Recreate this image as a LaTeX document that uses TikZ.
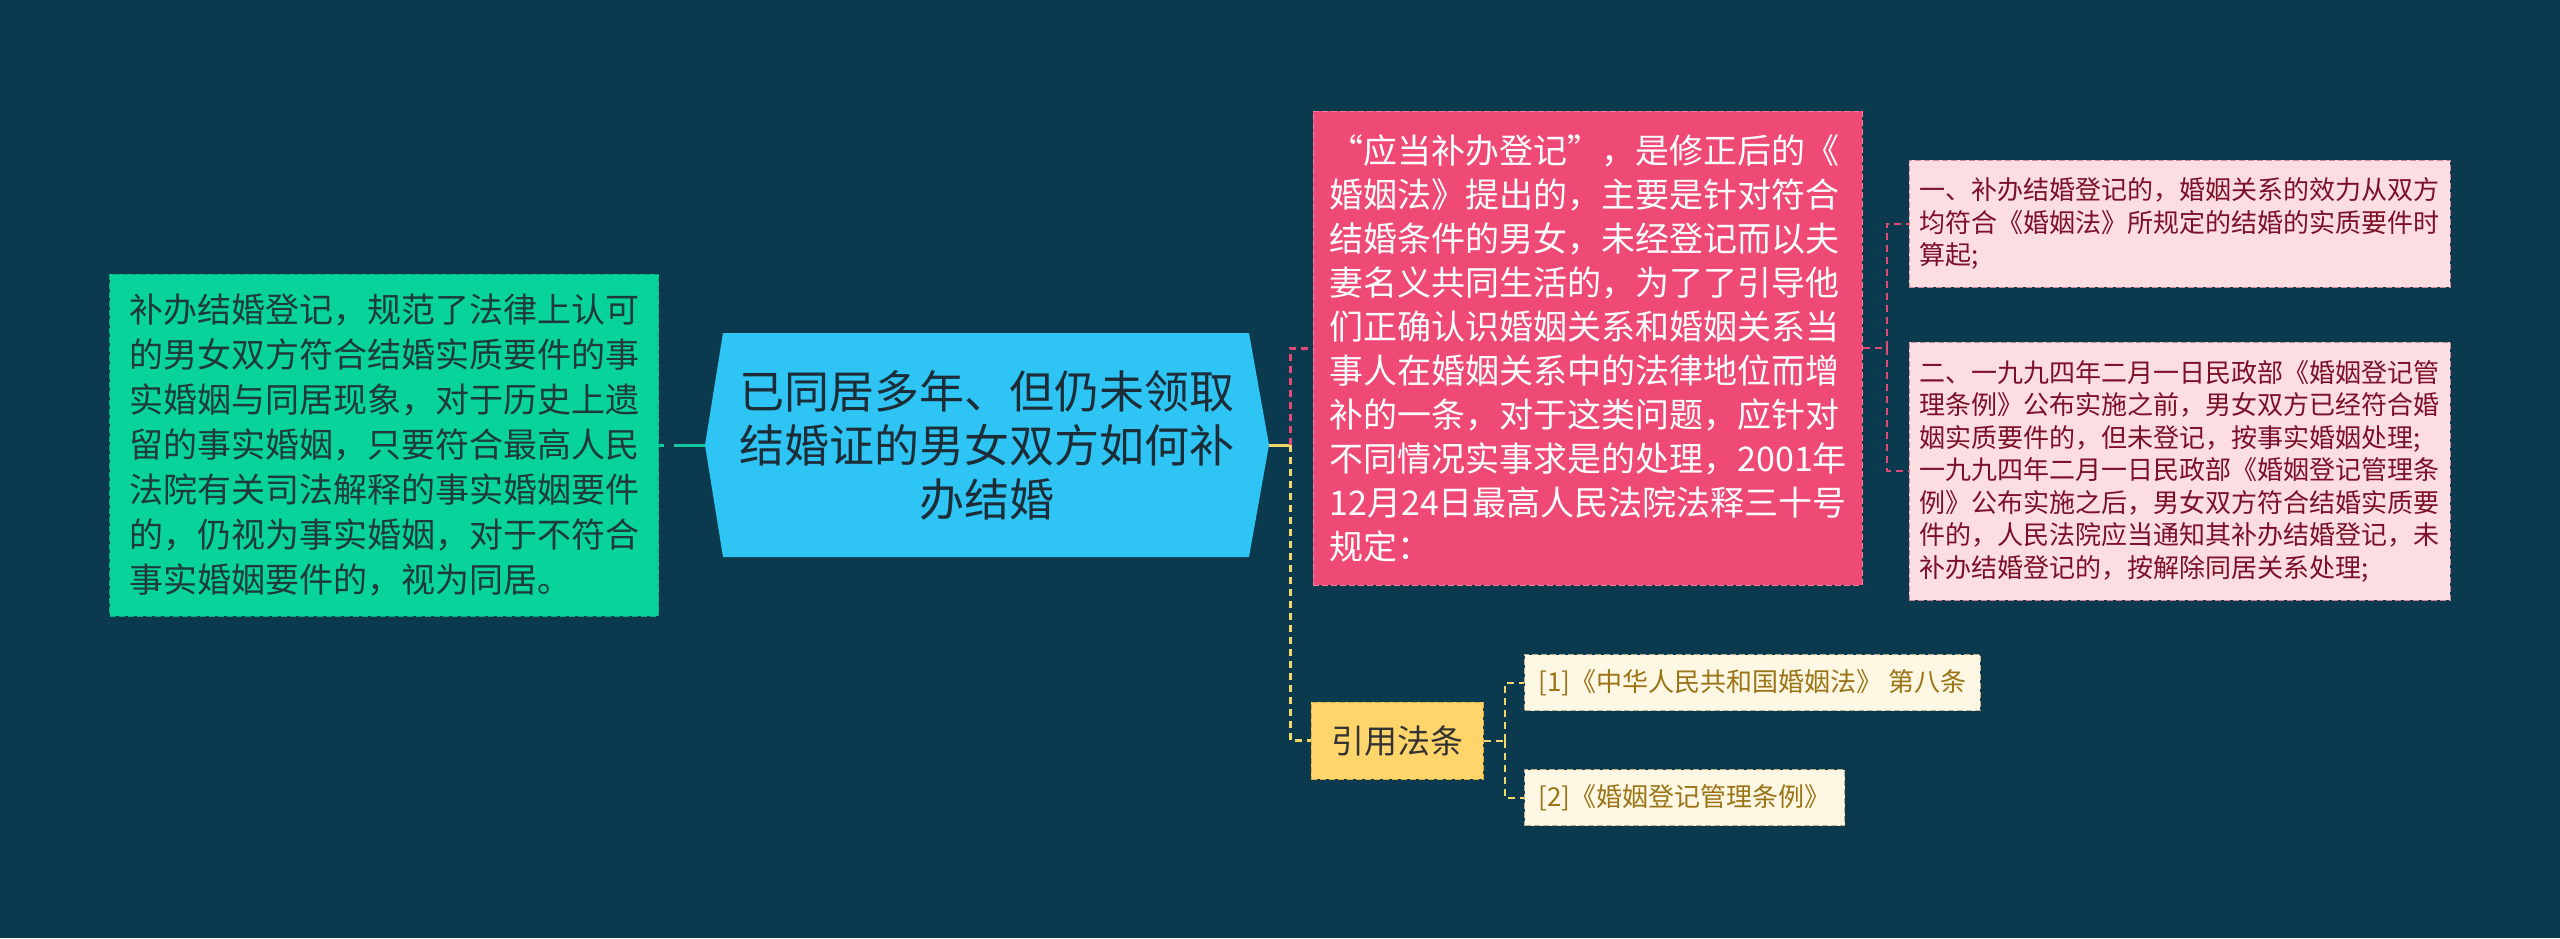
\documentclass[tikz,border=0pt]{standalone}
\usepackage{fontspec}
\setmainfont{Noto Sans CJK SC}
\usetikzlibrary{calc}
\definecolor{bgcol}{HTML}{0B394D}
\definecolor{greenfill}{HTML}{08D39B}
\definecolor{greenedge}{HTML}{0AA97E}
\definecolor{greentext}{HTML}{1E3A3A}
\definecolor{hubfill}{HTML}{2EC4F3}
\definecolor{hubtext}{HTML}{1D2D38}
\definecolor{pinkfill}{HTML}{EF4A75}
\definecolor{pinkedge}{HTML}{F27F9D}
\definecolor{rosefill}{HTML}{FCDDE2}
\definecolor{roseedge}{HTML}{CF8A9B}
\definecolor{rosetext}{HTML}{7B0F2C}
\definecolor{lawfill}{HTML}{FDD56B}
\definecolor{lawedge}{HTML}{D9AE45}
\definecolor{citefill}{HTML}{FDF7E4}
\definecolor{citeedge}{HTML}{BFAE8A}
\definecolor{citetext}{HTML}{9B7416}
\definecolor{tealline}{HTML}{15C89B}
\definecolor{pinkline}{HTML}{E04B78}
\definecolor{yellowline}{HTML}{F3D76B}

\begin{document}
\begin{tikzpicture}[x=0.5pt,y=-0.5pt,
		box/.style={draw,dash pattern=on 3pt off 1.5pt,line width=0.5pt,rectangle,align=left},
		greenbox/.style={box,fill=greenfill,draw=greenedge,text=greentext,text width=255pt,
			minimum width=274.5pt,minimum height=171pt,font=\fontsize{17pt}{22.5pt}\selectfont},
		pinkbox/.style={box,fill=pinkfill,draw=pinkedge,text=white,text width=258pt,
			minimum width=274.5pt,minimum height=237pt,font=\fontsize{17pt}{22pt}\selectfont},
		rosebox/.style={box,fill=rosefill,draw=roseedge,text=rosetext,text width=260pt,
			minimum width=270.5pt,font=\fontsize{13pt}{16.25pt}\selectfont},
		lawbox/.style={box,fill=lawfill,draw=lawedge,text=black!80,minimum width=86pt,
			minimum height=38.5pt,align=center,font=\fontsize{16.5pt}{20pt}\selectfont},
		citebox/.style={box,fill=citefill,draw=citeedge,text=citetext,anchor=west,inner xsep=7pt,
			minimum height=28pt,font=\fontsize{13pt}{16pt}\selectfont},
		pinklink/.style={draw=pinkline,line width=1.5pt,dash pattern=on 3.5pt off 2.5pt},
		yellowlink/.style={draw=yellowline,line width=1.5pt,dash pattern=on 3.5pt off 2.5pt},
		]
			%%%%% START %%%%%
			
			\fill[bgcol] (0,0) rectangle (2560,938);
			\useasboundingbox (0,0) rectangle (2560,938);
			
			% centre topic
			\coordinate (hubc) at (987,445);
			\fill[hubfill] ($(hubc)+(-282,0)$) -- ($(hubc)+(-264,-112)$) -- ($(hubc)+(262,-112)$)
				-- ($(hubc)+(282,0)$) -- ($(hubc)+(262,112)$) -- ($(hubc)+(-264,112)$) -- cycle;
			\node[align=center,text=hubtext,minimum width=282pt,minimum height=112pt,
				font=\fontsize{22.5pt}{27pt}\selectfont] (hub) at (hubc)
				{已同居多年、但仍未领取\\结婚证的男女双方如何补\\办结婚};
			
			% left
			\node[greenbox] (fact) at (384,445) {补办结婚登记，规范了法律上认可\\的男女双方符合结婚实质要件的事\\实婚姻与同居现象，对于历史上遗\\留的事实婚姻，只要符合最高人民\\法院有关司法解释的事实婚姻要件\\的，仍视为事实婚姻，对于不符合\\事实婚姻要件的，视为同居。};
			
			% right
			\node[pinkbox] (rule) at (1587.5,348) {“应当补办登记”，是修正后的《\\婚姻法》提出的，主要是针对符合\\结婚条件的男女，未经登记而以夫\\妻名义共同生活的，为了了引导他\\们正确认识婚姻关系和婚姻关系当\\事人在婚姻关系中的法律地位而增\\补的一条，对于这类问题，应针对\\不同情况实事求是的处理，2001年\\12月24日最高人民法院法释三十号\\规定：};
			\node[rosebox,minimum height=63.5pt] (one) at (2179.5,223.5) {一、补办结婚登记的，婚姻关系的效力从双方\\均符合《婚姻法》所规定的结婚的实质要件时\\算起;};
			\node[rosebox,minimum height=129pt] (two) at (2179.5,471) {二、一九九四年二月一日民政部《婚姻登记管\\理条例》公布实施之前，男女双方已经符合婚\\姻实质要件的，但未登记，按事实婚姻处理;\\一九九四年二月一日民政部《婚姻登记管理条\\例》公布实施之后，男女双方符合结婚实质要\\件的，人民法院应当通知其补办结婚登记，未\\补办结婚登记的，按解除同居关系处理;};
			
			\node[lawbox] (law) at (1397,740.5) {引用法条};
			\node[citebox] (citeA) at (1524,682.5) {[1]《中华人民共和国婚姻法》 第八条};
			\node[citebox] (citeB) at (1524,797.5) {[2]《婚姻登记管理条例》};
			
			% links
			\coordinate (forkA) at ($(hub.east)+(21,0)$);
			\coordinate (forkB) at ($(rule.east)+(24,0)$);
			\coordinate (forkC) at ($(law.east)+(21,0)$);
			
			\draw[tealline,line width=1.5pt,dash pattern=on 2.5pt off 5pt on 20pt off 0pt] (fact.east) -- (hub.west);
			\draw[yellowline,line width=1.5pt] (hub.east) -- (forkA);
			\draw[pinklink] (forkA) |- (rule.west);
			\draw[yellowlink] (forkA) |- (law.west);
			
			\draw[pinklink,line width=1pt] (rule.east) -- (forkB);
			\draw[pinklink,line width=1pt] (forkB) |- (one.west);
			\draw[pinklink,line width=1pt] (forkB) |- (two.west);
			
			\draw[yellowlink,line width=1pt] (law.east) -- (forkC);
			\draw[yellowlink,line width=1pt] (forkC) |- (citeA.west);
			\draw[yellowlink,line width=1pt] (forkC) |- (citeB.west);
			
			%%%%% END %%%%%
\end{tikzpicture}
\end{document}
